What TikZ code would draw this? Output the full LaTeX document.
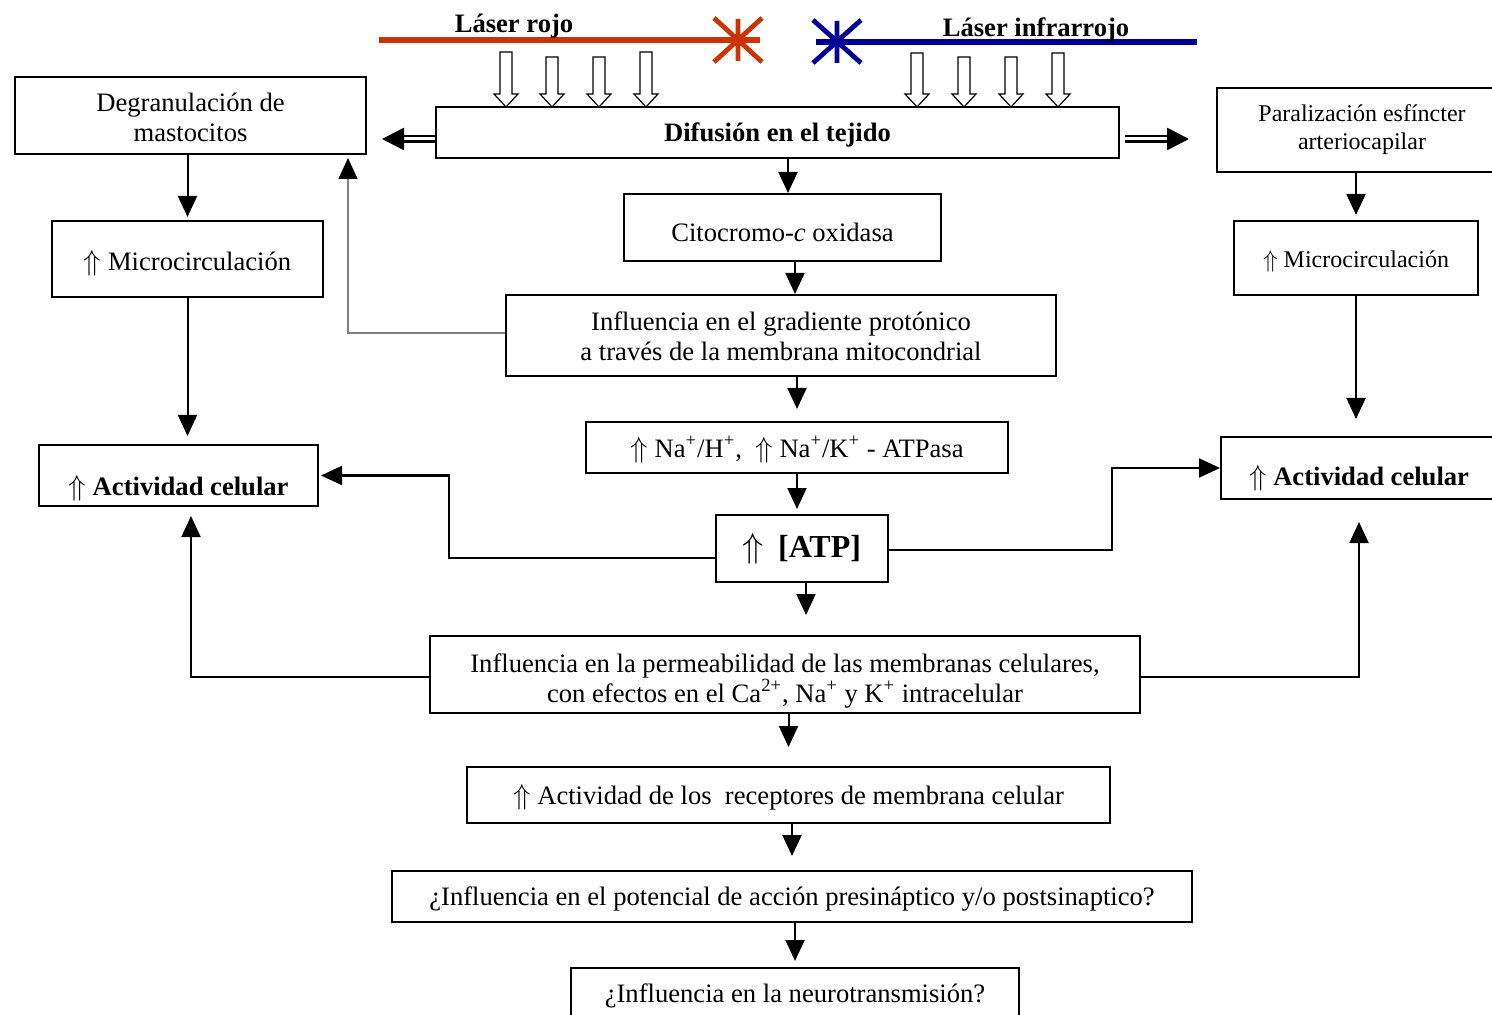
\documentclass[tikz,border=0pt]{standalone}
\usepackage{fontspec}
\setmainfont{Liberation Serif}
\usetikzlibrary{arrows.meta}
\definecolor{laserred}{RGB}{204,51,0}
\definecolor{laserblue}{RGB}{0,0,150}
\newcommand{\mainsize}{\fontsize{13.3}{15}\selectfont}
\newcommand{\smallsize}{\fontsize{12}{14}\selectfont}
\newcommand{\up}{$\Uparrow$}
\tikzset{low/.style={execute at begin node={\rule{0pt}{#1}}}}

\begin{document}
\begin{tikzpicture}[x=0.5pt,y=-0.5pt]
        \tikzstyle{every node}=[inner sep=0pt, font=\mainsize, align=center]
        \tikzstyle{box}=[draw, line width=1pt]
        \tikzstyle{arr}=[line width=1pt, -{Triangle[length=10.5pt,width=9.5pt]}]
        \tikzstyle{dbl}=[double, double distance=1.5pt, line width=1.3pt, -{Triangle[length=11pt,width=11pt]}]
        \tikzstyle{hollow}=[draw, fill=white, line width=0.6pt]
        \useasboundingbox (0,0) rectangle (1492,1015);
        \draw[laserred, line width=3pt] (379,40) -- (760,40);
        \draw[laserred, line width=2.4pt] (738,19) -- (738,61) (714,18) -- (762,62) (714,62) -- (762,18);
        \draw[laserblue, line width=3pt] (816,42) -- (1197,42);
        \draw[laserblue, line width=2.4pt] (837,21) -- (837,63) (813,20) -- (861,63) (813,63) -- (861,20);
        \node (rojo) at (514,26) {\bfseries Láser rojo};
        \node (infra) at (1036,30) {\bfseries Láser infrarrojo};
        \foreach \x/\t in {506/52, 552/57, 599/57, 646/52, 917/53, 964/57, 1011/57, 1058/53}
            \draw[hollow] (\x-6,\t) -- (\x+6,\t) -- (\x+6,94) -- (\x+12,94) -- (\x,107) -- (\x-12,94) -- (\x-6,94) -- cycle;
        \node[box, low=12.2pt, minimum width=341.5pt, minimum height=25.5pt] (difu) at (777.5,132.5) {\bfseries Difusión en el tejido};
        \node[box, low=26.4pt, minimum width=175.5pt, minimum height=38.5pt] (degr) at (190.5,115.5) {Degranulación de\\mastocitos};
        \node[box, minimum width=145pt, minimum height=42pt, font=\smallsize] (para) at (1362,130) {Paralización esfíncter\\arteriocapilar};
        \node[box, low=14.2pt, minimum width=158.5pt, minimum height=33.5pt] (cito) at (782.5,227.5) {Citocromo-\textit{c} oxidasa};
        \node[box, low=14.2pt, minimum width=135.5pt, minimum height=38pt] (microL) at (187.5,259) {\up\ Microcirculación};
        \node[box, low=12.3pt, minimum width=122pt, minimum height=37pt, font=\smallsize] (microR) at (1356,258) {\up\ Microcirculación};
        \node[box, low=25.3pt, minimum width=275pt, minimum height=40.5pt] (grad) at (781,335.5) {Influencia en el gradiente protónico\\a través de la membrana mitocondrial};
        \node[box, low=12.4pt, minimum width=211pt, minimum height=25.5pt] (na) at (797,447.5) {\up\ Na\textsuperscript{+}/H\textsuperscript{+}, \ \up\ Na\textsuperscript{+}/K\textsuperscript{+} - ATPasa};
        \node[box, minimum width=139.5pt, minimum height=30.5pt, text height=20.5pt, text depth=0.8pt] (actL) at (178.5,475.5) {\up\ \bfseries Actividad celular};
        \node[box, minimum width=138pt, minimum height=31pt, text height=18pt, text depth=0.8pt] (actR) at (1359,468) {\up\ \bfseries Actividad celular};
        \node[box, minimum width=86pt, minimum height=33.5pt, font=\fontsize{16}{18}\selectfont] (atp) at (802,548.5) {\up\hspace{7pt}\bfseries [ATP]};
        \node[box, low=30.5pt, minimum width=355pt, minimum height=38.5pt] (perm) at (785,674.5) {Influencia en la permeabilidad de las membranas celulares,\\con efectos en el Ca\textsuperscript{2+}, Na\textsuperscript{+} y K\textsuperscript{+} intracelular};
        \node[box, low=12.2pt, minimum width=321.5pt, minimum height=28pt] (rece) at (788.5,795) {\up\ Actividad de los \ receptores de membrana celular};
        \node[box, low=12.2pt, minimum width=400pt, minimum height=25.5pt] (pote) at (792,896.5) {¿Influencia en el potencial de acción presináptico y/o postsinaptico?};
        \node[box, minimum width=224pt, minimum height=26pt, text height=11pt, text depth=3pt] (neuro) at (795,994) {¿Influencia en la neurotransmisión?};
        \draw[dbl] ([yshift=-3.25pt]difu.west) -- ++(-26.5pt,0);
        \draw[dbl] ([xshift=2.5pt,yshift=-3.25pt]difu.east) -- ++(32pt,0);
        \draw[arr] ([xshift=2.75pt]cito.north |- difu.south) -- ([xshift=2.75pt]cito.north);
        \draw[arr] ([xshift=6.25pt]cito.south) -- ([xshift=6.25pt]cito.south |- grad.north);
        \draw[arr, shorten >=6pt] (na.north |- grad.south) -- (na.north);
        \draw[arr, shorten >=2.5pt] (na.south) -- (na.south |- atp.north);
        \draw[arr, shorten >=10pt] ([xshift=2pt]atp.south) -- ([xshift=2pt]atp.south |- perm.north);
        \draw[arr, shorten >=9.5pt] (rece.north |- perm.south) -- (rece.north);
        \draw[arr, shorten >=7pt] (pote.north |- rece.south) -- (pote.north);
        \draw[arr, shorten >=3pt] (neuro.north |- pote.south) -- (neuro.north);
        \draw[arr, shorten >=1.5pt] (degr.south -| microL.north) -- (microL.north);
        \draw[arr, shorten >=4pt] (microL.south) -- (microL.south |- actL.north);
        \draw[arr, shorten >=2.5pt] (para.south -| microR.north) -- (microR.north);
        \draw[arr, shorten >=8.5pt] (microR.south) -- (microR.south |- actR.north);
        \draw[arr, gray, line width=0.7pt, -{Triangle[length=10.5pt,width=9.5pt,color=black]}, shorten >=1.5pt] ([yshift=1.25pt]grad.west) -| ([xshift=-9.5pt]degr.south east);
        \draw[arr, shorten >=1pt] ([yshift=-4.75pt]atp.west) -- ++(-133pt,0) |- (actL.east);
        \draw[arr] ([yshift=-0.75pt]atp.east) -- ++(111.5pt,0) |- (actR.west);
        \draw[arr, shorten >=4.5pt] ([yshift=-1.25pt]perm.west) -| ([xshift=6.25pt]actL.south);
        \draw[arr, shorten >=11pt] ([yshift=-1.25pt]perm.east) -| (actR.south);
    \end{tikzpicture}
\end{document}
